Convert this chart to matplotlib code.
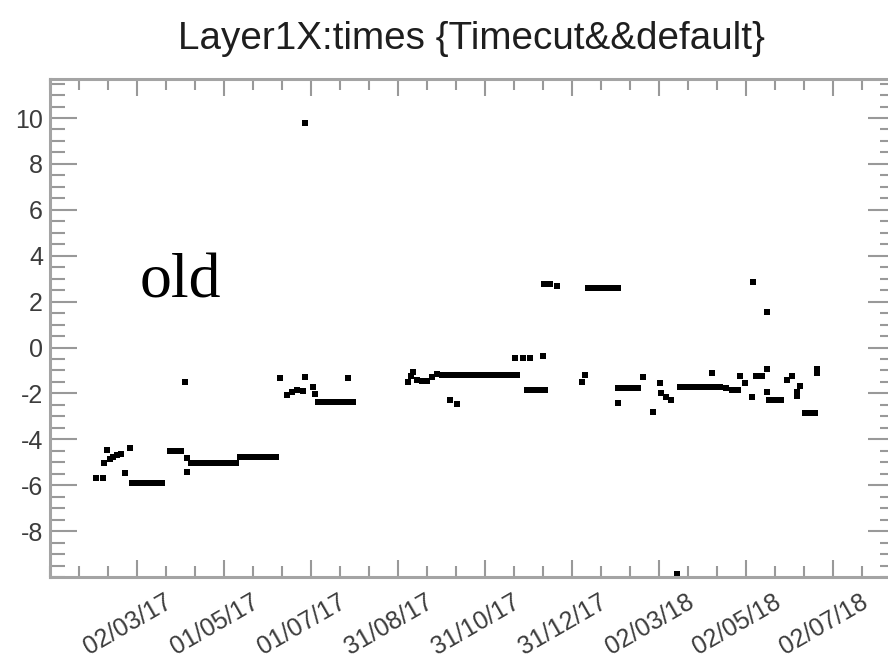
import numpy as np
import matplotlib
matplotlib.use('Agg')
import matplotlib.pyplot as plt
import matplotlib.transforms as mtransforms

# Tidsaxel: dagar räknat från 02/03/17 (första etiketten)
TICK_LABELS = ['02/03/17', '01/05/17', '01/07/17', '31/08/17', '31/10/17',
               '31/12/17', '02/03/18', '02/05/18', '02/07/18']
TICK_STEP = 60.875  # dagar mellan etiketterna

# Punkter (dag, värde)
days_early = [-28.7, -23.8, -23.1, -21.0, -18.9, -16.8, -14.0, -11.2, -4.9, -8.4,
              -3.5, 0.0, 3.5, 7.0, 10.5, 14.0, 17.5,
              23.1, 26.6, 30.8, 35.0, 35.0,
              37.8, 41.3, 44.8, 48.3, 51.8, 55.3, 58.8, 62.3, 65.8, 69.3,
              72.1, 75.6, 79.1, 82.6, 86.1, 89.6, 93.1, 97.3, 33.6]
vals_early = [-5.69, -5.69, -5.04, -4.47, -4.87, -4.78, -4.69, -4.65, -4.39, -5.47,
              -5.9, -5.9, -5.9, -5.9, -5.9, -5.9, -5.9,
              -4.52, -4.52, -4.52, -4.82, -5.43,
              -5.04, -5.04, -5.04, -5.04, -5.04, -5.04, -5.04, -5.04, -5.04, -5.04,
              -4.78, -4.78, -4.78, -4.78, -4.78, -4.78, -4.78, -4.78, -1.51]

days_summer = [100.1, 105.0, 108.5, 112.0, 116.2, 117.6, 117.6, 123.2, 124.6,
               126.7, 130.2, 133.7, 137.2, 140.7, 144.2, 147.7, 151.2, 147.7]
vals_summer = [-1.34, -2.07, -1.94, -1.86, -1.90, -1.29, 9.78, -1.73, -2.03,
               -2.38, -2.38, -2.38, -2.38, -2.38, -2.38, -2.38, -2.38, -1.34]

days_autumn = [189.6, 191.7, 193.1, 195.9, 199.4, 202.9, 206.4, 209.9,
               213.4, 216.9, 220.4, 223.9, 227.4, 230.9, 234.4, 237.9, 241.4, 244.9,
               248.4, 251.9, 255.4, 258.9, 262.4, 265.9,
               219.0, 224.0, 264.5, 270.1, 275.0, 284.1,
               272.9, 277.1, 281.3, 285.5,
               284.8, 289.0, 293.9,
               315.6, 319.1, 322.6, 326.1, 329.6, 333.1, 336.6]
vals_autumn = [-1.51, -1.25, -1.07, -1.42, -1.46, -1.46, -1.29, -1.16,
               -1.20, -1.20, -1.20, -1.20, -1.20, -1.20, -1.20, -1.20, -1.20, -1.20,
               -1.20, -1.20, -1.20, -1.20, -1.20, -1.20,
               -2.29, -2.47, -0.46, -0.46, -0.46, -0.37,
               -1.86, -1.86, -1.86, -1.86,
               2.76, 2.76, 2.70,
               2.59, 2.59, 2.59, 2.59, 2.59, 2.59, 2.59]

days_winter = [313.5, 311.4, 336.6, 340.1, 343.6, 347.1, 350.6, 336.6,
               354.1, 361.1, 366.0, 366.7, 370.2, 373.7,
               380.0, 384.2, 388.4, 392.6, 396.8, 401.0, 405.2, 402.4, 377.9]
vals_winter = [-1.20, -1.51, -1.77, -1.77, -1.77, -1.77, -1.77, -2.42,
               -1.29, -2.82, -1.55, -1.99, -2.16, -2.29,
               -1.73, -1.73, -1.73, -1.73, -1.73, -1.73, -1.73, -1.11, -9.85]

days_spring = [408.0, 412.2, 416.4, 420.6, 422.0, 425.5, 431.1, 430.4,
               433.2, 437.4, 440.9, 440.9, 440.9, 442.3, 446.5, 450.7,
               454.9, 458.4, 461.9, 464.0, 461.9, 475.9, 475.9,
               467.5, 471.0, 474.5]
vals_spring = [-1.73, -1.77, -1.86, -1.86, -1.25, -1.55, 2.85, -2.16,
               -1.25, -1.25, -0.94, 1.54, -1.94, -2.29, -2.29, -2.29,
               -1.42, -1.25, -1.94, -1.68, -2.12, -1.11, -0.94,
               -2.86, -2.86, -2.86]

GRAY = '#a4a4a4'
TICKGRAY = '#999999'
LABELGRAY = '#3c3c3c'

fig = plt.figure(figsize=(8.88, 6.59), dpi=100)
ax = fig.add_axes([50 / 888, 1 - 577 / 659, 845 / 888, 498 / 659])

all_days = days_early + days_summer + days_autumn + days_winter + days_spring
all_vals = vals_early + vals_summer + vals_autumn + vals_winter + vals_spring
ax.plot(all_days, all_vals, linestyle='none', marker='s', ms=4.2,
        color='black', mew=0)

# Axlar i ROOT-stil: ticks inåt på alla fyra sidor
major_x = np.arange(len(TICK_LABELS)) * TICK_STEP
ax.set_xticks(major_x)
ax.set_xticklabels(TICK_LABELS, rotation=30, fontsize=18, color=LABELGRAY,
                   family='Liberation Sans')
ax.set_xticks(np.arange(-3, 3 * len(TICK_LABELS) + 3) * TICK_STEP / 3, minor=True)
ax.set_yticks(np.arange(-8, 11, 2))
ax.set_yticklabels([str(v) for v in range(-8, 11, 2)], fontsize=18,
                   color=LABELGRAY, family='Liberation Sans')
ax.set_yticks(np.arange(-10, 12, 0.5), minor=True)

# gränser efter ticks (set_xticks vidgar annars axeln)
ax.set_xlim(-60.9, 530.4)
ax.set_ylim(-10.0, 11.7)

ax.tick_params(direction='in', top=True, right=True, which='both',
               color=TICKGRAY, width=1.5)
ax.tick_params(axis='x', which='major', length=12.2, pad=9)
ax.tick_params(axis='x', which='minor', length=7.9)
ax.tick_params(axis='y', which='major', length=19.4, pad=5)
ax.tick_params(axis='y', which='minor', length=10.8)

# Flytta datumetiketterna lite åt vänster som i originalet
shift = mtransforms.ScaledTranslation(-9 / 100, 0, fig.dpi_scale_trans)
for lbl in ax.get_xticklabels():
    lbl.set_transform(lbl.get_transform() + shift)

for sp in ax.spines.values():
    sp.set_color(GRAY)
    sp.set_linewidth(2.2)

fig.text(471 / 888, 1 - 49 / 659, 'Layer1X:times {Timecut&&default}',
         ha='center', va='baseline', fontsize=27.8, color='#1e1e1e',
         family='Liberation Sans')
fig.text(140 / 888, 1 - 298 / 659, 'old', ha='left', va='baseline',
         fontsize=46, color='black', family='Liberation Serif')

fig.savefig('out.png', dpi=100)
